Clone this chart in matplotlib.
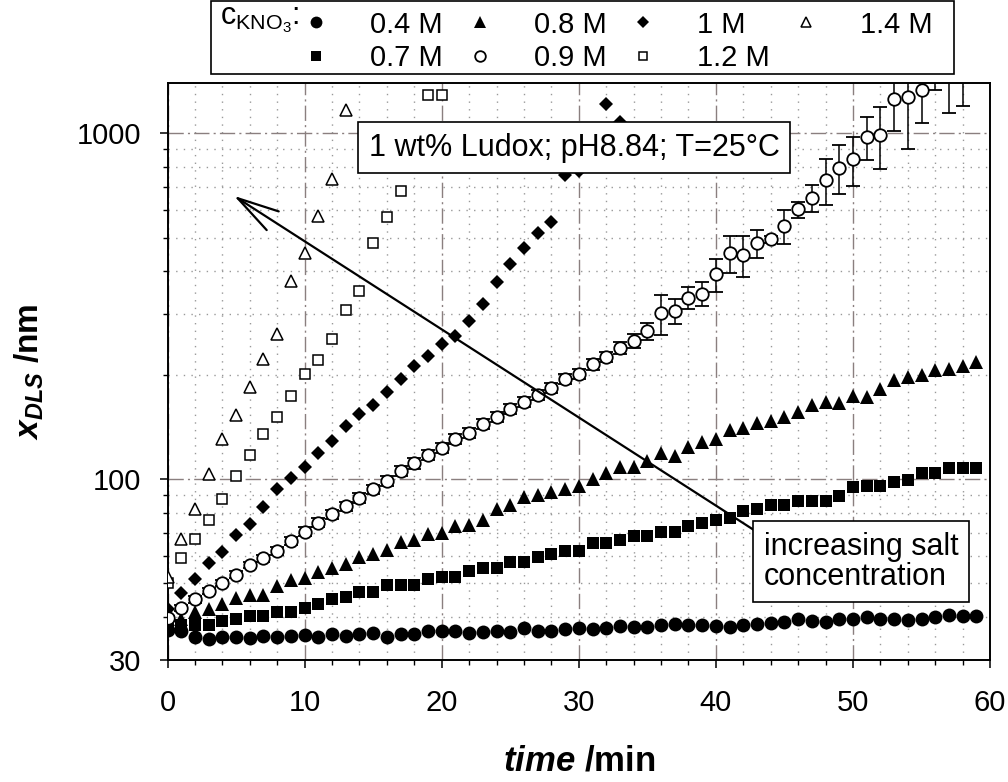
import matplotlib
matplotlib.use('Agg')
import matplotlib.pyplot as plt
from matplotlib.patches import Rectangle
from matplotlib.ticker import FixedLocator, NullFormatter

plt.rcParams['font.family'] = ['Liberation Sans', 'DejaVu Sans']
plt.rcParams['mathtext.fontset'] = 'custom'
plt.rcParams['mathtext.rm'] = 'Liberation Sans'
plt.rcParams['mathtext.it'] = 'Liberation Sans:italic'
plt.rcParams['mathtext.bf'] = 'Liberation Sans:bold'
plt.rcParams['mathtext.bfit'] = 'Liberation Sans:italic:bold'

# time in minutes, one reading per minute
t_04 = list(range(60))
t_07 = list(range(60))
t_08 = list(range(60))
t_09 = list(range(59))
t_10 = list(range(34))
t_12 = list(range(21))
t_14 = list(range(14))

# x_DLS in nm
x_04 = [36.6, 36.5, 35.0, 34.6, 35.0, 35.0, 34.8, 35.2, 35.0, 35.2,
        35.4, 35.0, 35.7, 35.2, 35.7, 36.0, 35.0, 35.7, 35.7, 36.4,
        36.4, 36.4, 35.8, 36.2, 36.4, 36.2, 37.2, 36.5, 36.5, 37.0,
        37.1, 37.0, 37.2, 37.6, 37.4, 37.4, 38.0, 38.2, 38.0, 37.8,
        37.6, 37.3, 38.0, 38.2, 38.4, 38.6, 39.3, 38.8, 38.6, 39.3,
        39.3, 39.9, 39.4, 39.3, 39.1, 39.5, 39.9, 40.6, 40.1, 40.1]
x_07 = [37.5, 38.0, 38.0, 37.8, 39.0, 39.5, 40.2, 40.2, 41.3, 41.3,
        42.4, 43.5, 45.1, 45.7, 47.1, 47.1, 49.4, 49.6, 49.6, 51.3,
        52.3, 52.3, 54.2, 55.3, 55.5, 57.5, 57.7, 59.7, 60.8, 62.0,
        62.0, 65.4, 65.4, 66.5, 68.5, 68.5, 70.2, 70.6, 73.0, 74.6,
        76.1, 77.4, 81.0, 82.2, 84.4, 84.0, 86.7, 86.7, 86.7, 89.3,
        94.7, 95.5, 95.5, 98.2, 99.8, 104, 104, 107.6, 107.6, 108]
x_08 = [38.5, 39.5, 41.3, 42.0, 43.7, 45.3, 46.3, 46.3, 49.0, 51.0,
        51.7, 53.9, 55.3, 56.9, 59.7, 60.7, 62.6, 65.8, 66.9, 69.3,
        69.8, 73.0, 73.8, 76.0, 82.2, 84.1, 88.9, 90.0, 92.0, 94.0,
        95.5, 100.0, 104.0, 108.7, 108.5, 113.0, 119.0, 116.7, 124.0, 128.0,
        130.8, 138.7, 140.9, 145.6, 147.3, 151.4, 156.4, 163.7, 166.8, 166.0,
        174.3, 172.8, 182.5, 194, 197, 200, 207, 208, 213, 219]
x_09 = [39.6, 42.5, 44.9, 47.6, 50.1, 52.9, 56.5, 59.0, 62.0, 66.2,
        70.6, 74.8, 79.2, 83.6, 88.3, 93.4, 98.7, 105.6, 111.1, 117.6,
        123.5, 130.7, 135.8, 144.1, 151.8, 159.5, 167.2, 175.7, 183.4, 195,
        202, 215, 226, 240, 251, 268, 302, 307, 335, 344,
        391, 451, 445, 481, 494, 540, 603, 651, 733, 797,
        841, 977, 989, 1260, 1271, 1334, 1500, 1650, 1700]
err_09 = [0.6, 0.8, 0.9, 1.0, 1.0, 1.2, 1.3, 1.4, 1.5, 1.8,
          2.0, 2.2, 2.4, 2.6, 2.8, 3.0, 3.2, 3.5, 3.8, 4.0,
          4.2, 4.5, 4.6, 4.8, 5.0, 5.2, 5.5, 5.8, 6.0, 6.5,
          7, 8, 8, 10, 12, 15, 40, 25, 25, 28,
          42, 55, 60, 45, 12, 60, 32, 60, 113, 130,
          136, 137, 200, 240, 370, 265, 160, 500, 500]
x_10 = [42.2, 46.8, 51.3, 57.4, 61.5, 69.0, 74.1, 83.1, 93.4, 100.5,
        108.2, 119.2, 129.2, 142.3, 154.8, 163.6, 178.3, 195, 212, 227,
        246, 260, 286, 322, 372, 419, 465, 515, 556, 759,
        780, 950, 1216, 1083]
x_12 = [50.2, 59.0, 67.0, 76.1, 87.5, 102.2, 117.6, 135.1, 151.8, 174.3,
        202, 221, 255, 308, 350, 482, 574, 681, 950, 1290, 1290]
x_14 = [52.0, 67.0, 82.2, 103.4, 130.3, 153.3, 184.7, 222, 263.5, 374,
        451, 577, 741, 1173]

labels = ['0.4 M', '0.7 M', '0.8 M', '0.9 M', '1 M', '1.2 M', '1.4 M']

fig = plt.figure(figsize=(10.08, 7.82), dpi=100)
ax = fig.add_axes([0.1662, 0.156, 0.816, 0.7379])

h04, = ax.plot(t_04, x_04, 'o', color='black', ms=10, mew=0, zorder=3)
h07, = ax.plot(t_07, x_07, 's', color='black', ms=8.2, mew=0, zorder=3)
h08, = ax.plot(t_08, x_08, '^', color='black', ms=9.6, mew=0, zorder=3)
eb = ax.errorbar(t_09, x_09, yerr=err_09, fmt='o', ms=9, mfc='white',
                 mec='black', mew=1.3, ecolor='black', elinewidth=1.1,
                 capsize=4.8, capthick=1.1, zorder=4)
h09 = eb[0]
h10, = ax.plot(t_10, x_10, 'D', color='black', ms=7.2, mew=0, zorder=3)
h12, = ax.plot(t_12, x_12, 's', mfc='white', mec='black', ms=7.2, mew=1.1, zorder=3)
h14, = ax.plot(t_14, x_14, '^', mfc='white', mec='black', ms=8.3, mew=1.1, zorder=3)

ax.set_yscale('log')
ax.set_xlim(0, 60)
ax.set_ylim(30, 1400)

ax.set_xticks(range(0, 61, 10))
ax.xaxis.set_minor_locator(FixedLocator([v for v in range(0, 61, 2) if v % 10]))
ax.set_yticks([30, 100, 1000])
ax.set_yticklabels(['30', '100', '1000'])
ax.yaxis.set_minor_locator(FixedLocator([40, 50, 60, 70, 80, 90,
                                         200, 300, 400, 500, 600, 700, 800, 900]))
ax.yaxis.set_minor_formatter(NullFormatter())

ax.tick_params(which='major', direction='out', length=6, width=1.1, labelsize=21)
ax.tick_params(axis='x', which='major', pad=15)
ax.tick_params(axis='y', which='major', pad=13)
ax.tick_params(which='minor', direction='out', length=3.6, width=1.0)
for s in ax.spines.values():
    s.set_linewidth(1.4)

ax.set_axisbelow(True)
ax.grid(True, which='major', color='#8a7f7f', lw=1.0, linestyle=(0, (11, 3, 1.5, 3)))
ax.grid(True, which='minor', color='#999999', lw=1.0, linestyle=(0, (1, 4.5)))

ax.set_xlabel(r'$\mathbfit{time}$ /min', fontsize=25, fontweight='bold', labelpad=20)
ax.set_ylabel(r'$\mathbfit{x}_{\mathbfit{DLS}}$ /nm', fontsize=24, fontweight='bold', labelpad=22)

box = dict(boxstyle='square,pad=0.35', fc='white', ec='black', lw=1.2)
ax.text(29.65, 910, '1 wt% Ludox; pH8.84; T=25°C', fontsize=22,
        ha='center', va='center', bbox=box, zorder=6)
ax.text(43.5, 57.7, 'increasing salt\nconcentration', fontsize=22,
        ha='left', va='center', linespacing=1.0, bbox=box, zorder=6)
ax.annotate('', xy=(4.85, 660), xytext=(42.8, 71.2),
            arrowprops=dict(arrowstyle='->,head_length=1.5,head_width=0.4',
                            mutation_scale=20, lw=1.6, color='black',
                            shrinkA=0, shrinkB=0), zorder=5)

# legend on top of the figure
fig.legend([h04, h07, h08, h09, h10, h12, h14], labels, ncol=4,
           loc='upper left', bbox_to_anchor=(0.2778, 1.0051),
           frameon=False, borderpad=0, fontsize=21, handlelength=1.5,
           handletextpad=1.1, columnspacing=0.5, labelspacing=0.2,
           markerscale=0.85)
fig.text(220 / 1008, 1 - 20 / 782, r'$\mathrm{c}_{\mathrm{KNO}_{3}}$:',
         fontsize=22, ha='left', va='center')
fig.patches.append(Rectangle((211 / 1008, 1 - 74 / 782), 743 / 1008, 73 / 782,
                             transform=fig.transFigure, fill=False,
                             ec='black', lw=1.2))

fig.savefig('out.png', dpi=100)
